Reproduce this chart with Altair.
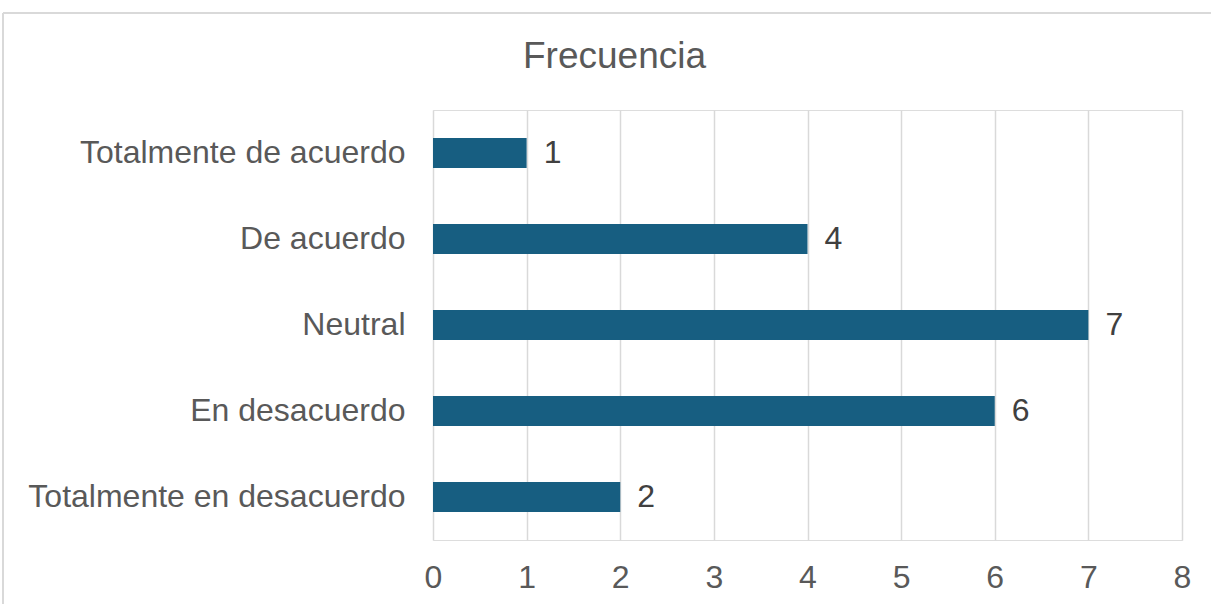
import altair as alt
import pandas as pd

categories = ["Totalmente de acuerdo", "De acuerdo", "Neutral", "En desacuerdo", "Totalmente en desacuerdo"]
values = [1, 4, 7, 6, 2]
x_ticks = [0, 1, 2, 3, 4, 5, 6, 7, 8]
title_text = "Frecuencia"

df = pd.DataFrame({"cat": categories, "val": values})
FONT = "Liberation Sans"

y_enc = alt.Y("cat:N", sort=categories, title=None,
              scale=alt.Scale(paddingInner=0.65, paddingOuter=0.325),
              axis=alt.Axis(domain=False, ticks=False, grid=False, labelPadding=28, labelFontSize=32,
                            labelColor="#595959", labelFont=FONT, labelLimit=500))
x_enc = alt.X("val:Q", title=None, scale=alt.Scale(domain=[0, 8], nice=False),
              axis=alt.Axis(values=x_ticks, format="d", domain=False, ticks=False, grid=True,
                            gridColor="#D9D9D9", gridWidth=1.5, labelPadding=22,
                            labelFlush=False,
                            labelFontSize=32, labelColor="#595959", labelFont=FONT))

bars = alt.Chart(df).mark_bar(color="#175E81").encode(x=x_enc, y=y_enc)
labels = alt.Chart(df).mark_text(align="left", baseline="middle", dx=17, fontSize=32,
                                 color="#404040", font=FONT).encode(
    x="val:Q", y=alt.Y("cat:N", sort=categories), text="val:Q")

frame_df = pd.DataFrame({"k": [0]})
top_line = alt.Chart(frame_df).mark_rule(color="#D9D9D9", strokeWidth=2).encode(
    x=alt.value(-430), x2=alt.value(790), y=alt.value(-97))
left_line = alt.Chart(frame_df).mark_rule(color="#D9D9D9", strokeWidth=2).encode(
    x=alt.value(-430), y=alt.value(-97), y2=alt.value(500))
title_mark = alt.Chart(pd.DataFrame({"t": [title_text]})).mark_text(
    align="center", baseline="alphabetic", fontSize=37, color="#595959", font=FONT).encode(
    x=alt.value(181.5), y=alt.value(-42), text="t:N")

chart = alt.layer(top_line, left_line, title_mark, bars, labels).properties(
    width=749, height=430,
    autosize=alt.AutoSizeParams(type="none"),
    padding={"left": 433, "top": 110, "right": 29, "bottom": 64},
).configure_view(strokeOpacity=0, strokeWidth=0).configure(background="white")

chart.save("out.html", embed_options={"renderer": "svg", "actions": False})
